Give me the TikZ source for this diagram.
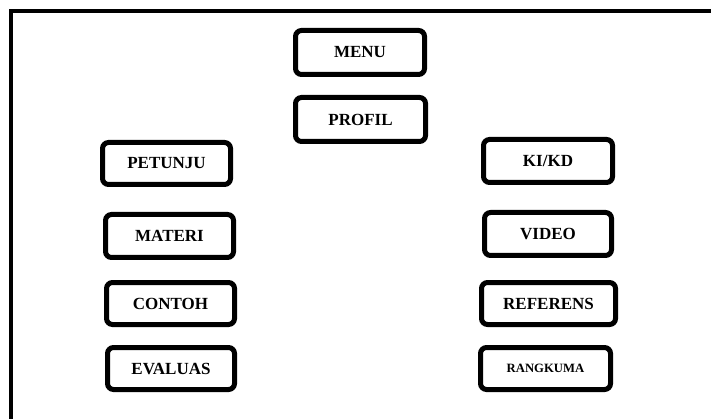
\documentclass[tikz,border=0pt]{standalone}
\usepackage{fontspec}
\setmainfont{Liberation Serif}
\usepackage{tikz}

\begin{document}
\begin{tikzpicture}[x=1pt,y=-1pt,every node/.style={font=\bfseries\fontsize{17}{20}\selectfont,align=center},menubox/.style={draw,line width=5pt,rounded corners=6pt,fill=white,minimum width=129pt,minimum height=43pt,inner sep=0pt}]
    \useasboundingbox (0,0) rectangle (711,419);
    \draw[line width=3.5pt] (11,419) -- (11,11) -- (711,11);
    \node[menubox,minimum height=44pt] (menu) at (360,52.5) {MENU};
    \node[menubox,minimum width=130pt,minimum height=44pt] (profil) at (360.5,119.5) {PROFIL};
    \node[menubox,minimum width=128pt,minimum height=42pt] (petunju) at (166.5,163.5) {PETUNJU};
    \node[menubox,minimum width=128pt] (materi) at (169.5,236) {MATERI};
    \node[menubox,minimum width=128pt,minimum height=42pt] (contoh) at (170.5,303.5) {CONTOH};
    \node[menubox,minimum width=127pt,minimum height=42pt] (evaluas) at (171,368.5) {EVALUAS};
    \node[menubox] (kikd) at (548,161) {KI/KD};
    \node[menubox,minimum width=127pt] (video) at (548,234) {VIDEO};
    \node[menubox,minimum width=134pt,minimum height=42pt] (referens) at (548.5,303.5) {REFERENS};
    \node[menubox,minimum width=130pt,minimum height=42pt,font=\bfseries\fontsize{12.7}{15}\selectfont] (rangkuma) at (545.5,368.5) {RANGKUMA};
  \end{tikzpicture}
\end{document}
